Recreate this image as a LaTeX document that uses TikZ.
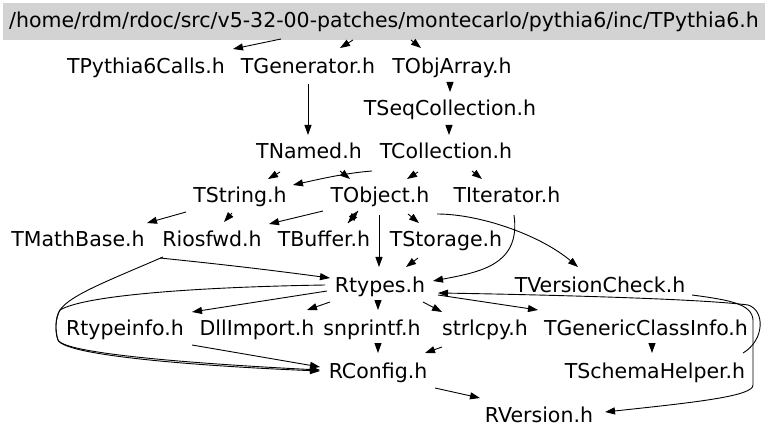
\documentclass[tikz,border=0pt]{standalone}
\usepackage{fontspec}
\setmainfont{DejaVu Sans}
\usetikzlibrary{arrows.meta}
\definecolor{boxgray}{RGB}{211,211,211}
\begin{document}
\begin{tikzpicture}[x=1pt,y=-1pt,
  lbl/.style={anchor=base,inner sep=0pt,font=\fontsize{20.5}{24}\selectfont},
  topbox/.style={anchor=base,fill=boxgray,inner xsep=0pt,inner ysep=8pt,text height=17pt,text depth=4pt,minimum width=762pt,font=\fontsize{20.5}{24}\selectfont},
  e/.style={draw=black,line width=0.9pt,-{Triangle[length=10pt,width=7pt]}}]
\useasboundingbox (0,0) rectangle (768,438);
% nodes
\node[topbox] (top) at (384,28) {/home/rdm/rdoc/src/v5-32-00-patches/montecarlo/pythia6/inc/TPythia6.h};
\node[lbl] (calls) at (146,74) {TPythia6Calls.h};
\node[lbl] (gen) at (308,74) {TGenerator.h};
\node[lbl] (objarr) at (452,74) {TObjArray.h};
\node[lbl] (seq) at (450,116) {TSeqCollection.h};
\node[lbl] (named) at (309,159) {TNamed.h};
\node[lbl] (coll) at (446,159) {TCollection.h};
\node[lbl] (str) at (240,203) {TString.h};
\node[lbl] (obj) at (380,203) {TObject.h};
\node[lbl] (iter) at (507,203) {TIterator.h};
\node[lbl] (math) at (78,247) {TMathBase.h};
\node[lbl] (rios) at (212,247) {Riosfwd.h};
\node[lbl] (buf) at (324,247) {TBuffer.h};
\node[lbl] (stor) at (446,247) {TStorage.h};
\node[lbl] (rtypes) at (380,292) {Rtypes.h};
\node[lbl] (vers) at (600,292) {TVersionCheck.h};
\node[lbl] (rti) at (125,335) {Rtypeinfo.h};
\node[lbl] (dll) at (257,335) {DllImport.h};
\node[lbl] (snp) at (372,335) {snprintf.h};
\node[lbl] (strl) at (485,335) {strlcpy.h};
\node[lbl] (gci) at (646,335) {TGenericClassInfo.h};
\node[lbl] (rconf) at (378,378) {RConfig.h};
\node[lbl] (schema) at (655,378) {TSchemaHelper.h};
\node[lbl] (rver) at (539,422) {RVersion.h};
% edges
\draw[e] ([shift={(-103,11)}]top.base) -- ([shift={(87,-25)}]calls.base);
\draw[e] ([shift={(-31,12)}]top.base) -- ([shift={(32,-26)}]gen.base);
\draw[e] ([shift={(27,12)}]top.base) -- ([shift={(-31,-26)}]objarr.base);
\draw[e] ([shift={(0,10)}]gen.base) -- ([shift={(-1,-24)}]named.base);
\draw[e] ([shift={(-2,10)}]objarr.base) -- ([shift={(0,-24)}]seq.base);
\draw[e] ([shift={(-1,10)}]seq.base) -- ([shift={(3,-24)}]coll.base);
\draw[e] ([shift={(-29,13)}]named.base) -- ([shift={(28,-24)}]str.base);
\draw[e] ([shift={(31,12)}]named.base) -- ([shift={(-30,-24)}]obj.base);
\draw[e] ([shift={(-74,12)}]coll.base) .. controls ([shift={(-100,14)}]coll.base) and ([shift={(80,-24)}]str.base) .. ([shift={(53,-18)}]str.base);
\draw[e] ([shift={(-28,13)}]coll.base) -- ([shift={(27,-24)}]obj.base);
\draw[e] ([shift={(26,12)}]coll.base) -- ([shift={(-25,-24)}]iter.base);
\draw[e] ([shift={(-54,9)}]str.base) -- ([shift={(69,-24)}]math.base);
\draw[e] ([shift={(-8,10)}]str.base) -- ([shift={(12,-25)}]rios.base);
\draw[e] ([shift={(-57,8)}]obj.base) -- ([shift={(57,-23)}]rios.base);
\draw[e] ([shift={(-22,8)}]obj.base) -- ([shift={(24,-24)}]buf.base);
\draw[e] ([shift={(24,-24)}]buf.base) -- ([shift={(34,-36)}]buf.base);
\draw[e] ([shift={(28,11)}]obj.base) -- ([shift={(-27,-24)}]stor.base);
\draw[e] ([shift={(-1,12)}]obj.base) -- ([shift={(-1,-25)}]rtypes.base);
\draw[e] ([shift={(57,11)}]obj.base) .. controls ([shift={(100,11)}]obj.base) and ([shift={(-60,-57)}]vers.base) .. ([shift={(-22,-25)}]vers.base);
\draw[e] ([shift={(7,12)}]iter.base) .. controls ([shift={(14,62)}]iter.base) and ([shift={(100,-20)}]rtypes.base) .. ([shift={(53,-11)}]rtypes.base);
\draw[e] ([shift={(-28,11)}]stor.base) -- ([shift={(26,-25)}]rtypes.base);
\draw[e] ([shift={(82,11)}]math.base) .. controls ([shift={(150,18)}]math.base) and ([shift={(-110,-22)}]rtypes.base) .. ([shift={(-50,-14)}]rtypes.base);
\draw[e] ([shift={(-49,10)}]rios.base) .. controls ([shift={(-102,33)}]rios.base) and ([shift={(-142,48)}]rios.base) .. ([shift={(-318,-68)}]rconf.base)
  .. controls ([shift={(-323,-60)}]rconf.base) and ([shift={(-323,-46)}]rconf.base) .. ([shift={(-320,-38)}]rconf.base)
  .. controls ([shift={(-313,-23)}]rconf.base) and ([shift={(-158,-13)}]rconf.base) .. ([shift={(-58,-8)}]rconf.base);
\draw[e] ([shift={(-55,-7)}]rtypes.base) .. controls ([shift={(-180,-5)}]rtypes.base) and ([shift={(-295,3)}]rtypes.base) .. ([shift={(-318,-68)}]rconf.base)
  .. controls ([shift={(-323,-60)}]rconf.base) and ([shift={(-323,-46)}]rconf.base) .. ([shift={(-320,-38)}]rconf.base)
  .. controls ([shift={(-313,-21)}]rconf.base) and ([shift={(-158,-11)}]rconf.base) .. ([shift={(-58,-7)}]rconf.base);
\draw[e] ([shift={(-53,-1)}]rtypes.base) -- ([shift={(67,-23)}]rti.base);
\draw[e] ([shift={(-50,10)}]rtypes.base) -- ([shift={(50,-25)}]dll.base);
\draw[e] ([shift={(-2,8)}]rtypes.base) -- ([shift={(6,-25)}]snp.base);
\draw[e] ([shift={(43,10)}]rtypes.base) -- ([shift={(-43,-23)}]strl.base);
\draw[e] ([shift={(58,3)}]rtypes.base) -- ([shift={(-108,-25)}]gci.base);
\draw[e] ([shift={(88,-25)}]schema.base) .. controls ([shift={(110,-38)}]schema.base) and ([shift={(110,-68)}]schema.base) .. ([shift={(93,-73)}]schema.base)
  .. controls ([shift={(40,-80)}]schema.base) and ([shift={(-150,-84)}]schema.base) .. ([shift={(58,1)}]rtypes.base);
\draw[e] ([shift={(92,3)}]vers.base) .. controls ([shift={(130,8)}]vers.base) and ([shift={(152,12)}]vers.base) .. ([shift={(153,28)}]vers.base)
  -- ([shift={(214,-37)}]rver.base) .. controls ([shift={(214,-26)}]rver.base) and ([shift={(160,-20)}]rver.base) .. ([shift={(66,-10)}]rver.base);
\draw[e] ([shift={(67,10)}]rti.base) -- ([shift={(-58,-11)}]rconf.base);
\draw[e] ([shift={(6,10)}]snp.base) -- ([shift={(0,-25)}]rconf.base);
\draw[e] ([shift={(-43,12)}]strl.base) -- ([shift={(47,-25)}]rconf.base);
\draw[e] ([shift={(6,10)}]gci.base) -- ([shift={(-3,-25)}]schema.base);
\draw[e] ([shift={(57,10)}]rconf.base) -- ([shift={(-59,-24)}]rver.base);
\end{tikzpicture}
\end{document}
